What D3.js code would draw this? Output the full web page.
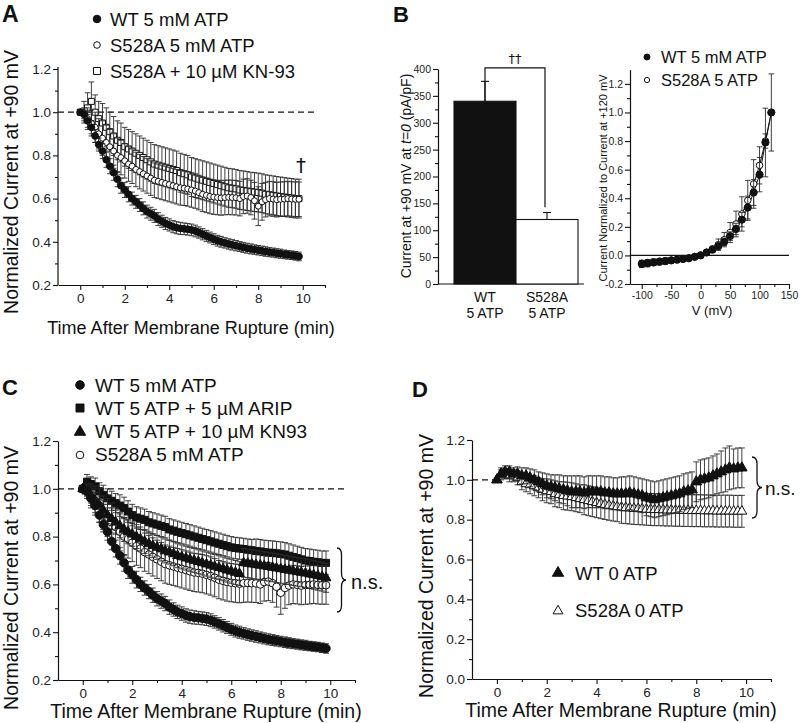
<!DOCTYPE html>
<html>
<head>
<meta charset="utf-8">
<script src="https://cdn.jsdelivr.net/npm/d3@7"></script>
<style>
body { margin: 0; background: #fff; }
svg { display: block; }
</style>
</head>
<body>
<svg id="fig" width="800" height="723"></svg>
<script>
// ---- data ----
var times = [0,0.17,0.33,0.5,0.67,0.83, 1,1.17,1.33,1.5,1.67,1.83, 2,2.17,2.33,2.5,2.67,2.83,
  3,3.17,3.33,3.5,3.67,3.83, 4,4.17,4.33,4.5,4.67,4.83, 5,5.17,5.33,5.5,5.67,5.83,
  6,6.17,6.33,6.5,6.67,6.83, 7,7.17,7.33,7.5,7.67,7.83, 8,8.17,8.33,8.5,8.67,8.83,
  9,9.17,9.33,9.5,9.67,9.83];

// WT 5 mM ATP (panels A and C)
var wt5 = [1.0,0.99,0.96,0.93,0.89,0.85, 0.82,0.78,0.75,0.72,0.69,0.66, 0.64,0.62,0.60,0.585,0.57,0.555,
  0.54,0.53,0.52,0.505,0.495,0.485, 0.478,0.47,0.465,0.462,0.46,0.458, 0.455,0.45,0.443,0.435,0.427,0.42,
  0.412,0.405,0.40,0.395,0.39,0.386, 0.382,0.378,0.374,0.37,0.367,0.364, 0.361,0.358,0.355,0.352,0.35,0.347,
  0.345,0.342,0.34,0.338,0.335,0.332];
var wt5Err = [0,0.02,0.03,0.03,0.03,0.03, 0.035,0.035,0.035,0.035,0.035,0.035, 0.035,0.035,0.03,0.03,0.03,0.03,
  0.03,0.03,0.03,0.03,0.028,0.028, 0.028,0.028,0.028,0.028,0.027,0.027, 0.027,0.027,0.026,0.026,0.026,0.025,
  0.025,0.025,0.025,0.024,0.024,0.024, 0.024,0.023,0.023,0.023,0.023,0.022, 0.022,0.022,0.022,0.021,0.021,0.021,
  0.021,0.02,0.02,0.02,0.02,0.02];

// S528A 5 mM ATP (panels A and C)
var s528a5 = [1.0,0.99,0.97,0.95,0.93,0.90, 0.88,0.86,0.84,0.82,0.80,0.79, 0.775,0.76,0.75,0.735,0.725,0.715,
  0.705,0.695,0.685,0.68,0.675,0.67, 0.665,0.66,0.655,0.65,0.648,0.645, 0.64,0.635,0.628,0.62,0.615,0.61,
  0.607,0.605,0.603,0.605,0.606,0.605, 0.604,0.60,0.61,0.612,0.605,0.59, 0.565,0.585,0.595,0.60,0.598,0.595,
  0.597,0.598,0.60,0.598,0.597,0.597];
var s528a5Err = [0,0.03,0.05,0.06,0.07,0.07, 0.08,0.08,0.08,0.08,0.08,0.08, 0.08,0.08,0.08,0.08,0.08,0.08,
  0.08,0.08,0.08,0.08,0.08,0.08, 0.08,0.08,0.08,0.08,0.08,0.08, 0.08,0.08,0.08,0.08,0.08,0.08,
  0.08,0.08,0.08,0.08,0.08,0.08, 0.08,0.08,0.08,0.08,0.08,0.085, 0.09,0.085,0.08,0.08,0.08,0.08,
  0.08,0.08,0.08,0.08,0.08,0.08];

// S528A + 10 uM KN-93 (panel A)
var s528aKn = [1.0,1.0,1.02,1.05,1.0,0.97, 0.95,0.93,0.91,0.89,0.87,0.86, 0.84,0.83,0.82,0.81,0.80,0.79,
  0.78,0.77,0.76,0.755,0.75,0.745, 0.74,0.735,0.73,0.72,0.715,0.71, 0.70,0.695,0.69,0.685,0.68,0.675,
  0.67,0.665,0.66,0.655,0.65,0.648, 0.645,0.64,0.638,0.635,0.632,0.63, 0.628,0.625,0.62,0.618,0.615,0.612,
  0.61,0.607,0.605,0.603,0.60,0.60];
var s528aKnErr = [0,0.05,0.07,0.09,0.08,0.08, 0.09,0.09,0.09,0.09,0.09,0.09, 0.09,0.09,0.09,0.09,0.09,0.09,
  0.09,0.09,0.09,0.09,0.09,0.09, 0.09,0.09,0.09,0.09,0.09,0.09, 0.09,0.09,0.09,0.09,0.09,0.09,
  0.09,0.09,0.09,0.09,0.09,0.09, 0.09,0.09,0.09,0.09,0.09,0.09, 0.09,0.09,0.09,0.09,0.09,0.09,
  0.09,0.09,0.09,0.09,0.09,0.09];

// WT 5 ATP + 5 uM ARIP (panel C)
var wtArip = [1.0,1.03,1.02,1.01,0.99,0.975, 0.96,0.95,0.94,0.93,0.92,0.905, 0.89,0.88,0.875,0.87,0.86,0.855,
  0.85,0.845,0.84,0.83,0.825,0.82, 0.815,0.81,0.805,0.80,0.795,0.79, 0.785,0.78,0.775,0.77,0.765,0.76,
  0.755,0.752,0.75,0.748,0.745,0.743, 0.74,0.738,0.735,0.733,0.732,0.73, 0.728,0.725,0.72,0.715,0.71,0.705,
  0.70,0.698,0.695,0.693,0.69,0.69];
var wtAripErr = [0,0.03,0.03,0.035,0.035,0.04, 0.04,0.04,0.04,0.045,0.045,0.045, 0.045,0.045,0.045,0.045,0.045,0.045,
  0.045,0.045,0.045,0.045,0.045,0.045, 0.045,0.045,0.045,0.045,0.045,0.045, 0.045,0.045,0.045,0.045,0.045,0.045,
  0.045,0.045,0.045,0.045,0.045,0.045, 0.05,0.05,0.05,0.05,0.05,0.05, 0.05,0.05,0.05,0.05,0.05,0.05,
  0.05,0.05,0.05,0.05,0.05,0.05];

// WT 5 ATP + 10 uM KN93 (panel C)
var wtKn = [1.0,0.99,0.97,0.95,0.93,0.91, 0.89,0.875,0.86,0.845,0.83,0.82, 0.81,0.80,0.79,0.78,0.77,0.762,
  0.755,0.748,0.74,0.735,0.728,0.72, 0.715,0.71,0.705,0.70,0.695,0.69, 0.685,0.68,0.675,0.67,0.665,0.66,
  0.655,0.65,0.645,0.69,0.688,0.685, 0.682,0.68,0.677,0.674,0.671,0.668, 0.665,0.662,0.659,0.656,0.653,0.65,
  0.647,0.643,0.64,0.636,0.632,0.627];
var wtKnErr = [0,0.02,0.03,0.035,0.04,0.04, 0.045,0.045,0.05,0.05,0.05,0.05, 0.05,0.05,0.05,0.05,0.05,0.05,
  0.05,0.05,0.05,0.05,0.05,0.05, 0.05,0.05,0.05,0.05,0.05,0.05, 0.05,0.05,0.05,0.05,0.05,0.05,
  0.05,0.05,0.05,0.06,0.06,0.06, 0.06,0.06,0.06,0.06,0.06,0.06, 0.06,0.06,0.06,0.06,0.06,0.06,
  0.06,0.06,0.06,0.06,0.06,0.06];

// WT 0 ATP and S528A 0 ATP (panel D)
var wt0 = [1.0,1.03,1.04,1.04,1.03,1.03, 1.02,1.02,1.01,1.0,0.99,0.98, 0.97,0.965,0.96,0.955,0.95,0.945,
  0.94,0.94,0.94,0.935,0.94,0.94, 0.94,0.94,0.935,0.935,0.93,0.93, 0.93,0.93,0.935,0.93,0.925,0.92,
  0.91,0.905,0.90,0.905,0.91,0.915, 0.92,0.925,0.93,0.94,0.945,0.95, 0.99,1.0,1.005,1.01,1.02,1.03,
  1.04,1.05,1.06,1.055,1.06,1.06];
var wt0Err = [0,0.03,0.03,0.03,0.03,0.035, 0.04,0.04,0.045,0.05,0.05,0.055, 0.06,0.06,0.065,0.07,0.07,0.075,
  0.08,0.08,0.08,0.08,0.08,0.08, 0.08,0.08,0.08,0.08,0.08,0.08, 0.085,0.085,0.085,0.085,0.085,0.085,
  0.09,0.09,0.09,0.09,0.09,0.09, 0.09,0.09,0.09,0.09,0.09,0.09, 0.1,0.1,0.1,0.1,0.1,0.1,
  0.105,0.11,0.11,0.1,0.1,0.1];
var s528a0 = [1.0,1.03,1.03,1.02,1.02,1.01, 0.99,0.98,0.975,0.97,0.96,0.95, 0.945,0.94,0.93,0.925,0.92,0.918,
  0.915,0.91,0.905,0.90,0.895,0.89, 0.885,0.88,0.876,0.872,0.868,0.865, 0.862,0.86,0.858,0.856,0.855,0.854,
  0.852,0.851,0.85,0.85,0.849,0.848, 0.848,0.847,0.847,0.846,0.846,0.845, 0.845,0.845,0.844,0.844,0.844,0.843,
  0.843,0.843,0.843,0.842,0.842,0.842];
var s528a0Err = [0,0.02,0.025,0.03,0.03,0.035, 0.04,0.04,0.045,0.05,0.05,0.055, 0.06,0.06,0.065,0.065,0.07,0.07,
  0.07,0.07,0.07,0.075,0.075,0.075, 0.075,0.075,0.075,0.075,0.075,0.075, 0.08,0.08,0.08,0.08,0.08,0.08,
  0.08,0.08,0.08,0.08,0.08,0.08, 0.08,0.08,0.08,0.08,0.08,0.08, 0.08,0.08,0.08,0.08,0.08,0.08,
  0.08,0.08,0.08,0.08,0.08,0.08];

// panel B, bars
var barGroups = ["WT", "S528A"];
var barLabels = [["WT", "5 ATP"], ["S528A", "5 ATP"]];
var barValues = [340, 120];
var barErrors = [37, 13];

// panel B, I-V relation
var volts = [-100,-90,-80,-70,-60,-50,-40,-30,-20,-10,0,10,20,30,40,50,60,70,80,90,100,110,120];
var ivWt = [-0.06,-0.055,-0.05,-0.045,-0.04,-0.035,-0.03,-0.025,-0.02,-0.01,0,0.02,0.04,0.065,0.095,0.135,0.185,0.25,0.335,0.44,0.565,0.79,1.0];
var ivWtErr = [0.025,0.025,0.02,0.02,0.02,0.015,0.015,0.01,0.01,0.01,0.005,0.01,0.015,0.02,0.025,0.03,0.04,0.05,0.08,0.09,0.12,0.24,0.27];
var ivS = [-0.055,-0.05,-0.045,-0.04,-0.037,-0.033,-0.028,-0.023,-0.018,-0.008,0.002,0.022,0.045,0.075,0.11,0.16,0.22,0.29,0.385,0.5,0.63,0.8,1.0];
var ivSErr = [0.02,0.02,0.02,0.015,0.015,0.015,0.01,0.01,0.01,0.01,0.005,0.01,0.02,0.04,0.05,0.07,0.09,0.12,0.14,0.17,0.13,0.05,0];

var timeMajor = [0, 2, 4, 6, 8, 10];
var timeMinor = [1, 3, 5, 7, 9, 11];

// ---- drawing ----
var FONT = '"Liberation Sans", Arial, Helvetica, sans-serif';
var svg = d3.select("#fig").attr("font-family", FONT);
var INK = "#111";

function fmt1(v) { return d3.format(".1f")(v).replace("\u2212", "-"); }

function styleAxis(g, fs) {
  g.attr("font-family", FONT).attr("font-size", fs);
  g.selectAll("path.domain").attr("stroke", INK).attr("stroke-width", 1.2);
  g.selectAll(".tick line").attr("stroke", INK).attr("stroke-width", 1.1);
  g.selectAll(".tick text").attr("fill", "#222");
}

function addAxes(p) {
  var y0 = p.y.range()[0], x0 = p.x.range()[0];
  var gx = svg.append("g").attr("transform", "translate(0," + y0 + ")")
    .call(d3.axisBottom(p.x).tickValues(p.xMaj).tickFormat(p.xFmt).tickSize(5).tickSizeOuter(0).tickPadding(3));
  styleAxis(gx, p.fs);
  var gxm = svg.append("g").attr("transform", "translate(0," + y0 + ")")
    .call(d3.axisBottom(p.x).tickValues(p.xMin).tickFormat("").tickSize(3));
  gxm.select(".domain").remove();
  styleAxis(gxm, p.fs);

  var gy = svg.append("g").attr("transform", "translate(" + x0 + ",0)")
    .call(d3.axisLeft(p.y).tickValues(p.yMaj).tickFormat(p.yFmt).tickSize(5).tickSizeOuter(0).tickPadding(2));
  styleAxis(gy, p.fs);
  if (p.yTop != null) {
    gy.select(".domain").attr("d", "M0," + y0 + "V" + p.yTop);
  }
  var gym = svg.append("g").attr("transform", "translate(" + x0 + ",0)")
    .call(d3.axisLeft(p.y).tickValues(p.yMin).tickFormat("").tickSize(3));
  gym.select(".domain").remove();
  styleAxis(gym, p.fs);
}

function text(x, y, s, fs, anchor, weight) {
  return svg.append("text").attr("x", x).attr("y", y).text(s)
    .attr("font-size", fs).attr("text-anchor", anchor || "start")
    .attr("font-weight", weight || "normal").attr("fill", INK);
}

function vtext(x, y, s, fs) {
  return svg.append("text").attr("transform", "translate(" + x + "," + y + ") rotate(-90)")
    .attr("text-anchor", "middle").attr("font-size", fs).attr("fill", INK).text(s);
}

function marker(g, cx, cy, kind, size) {
  if (kind === "dot" || kind === "ring") {
    g.append("circle").attr("cx", cx).attr("cy", cy).attr("r", size)
      .attr("fill", kind === "dot" ? INK : "#fff").attr("stroke", INK).attr("stroke-width", 1);
  } else {
    var type = (kind === "tri" || kind === "otri") ? d3.symbolTriangle : d3.symbolSquare;
    var filled = (kind === "tri" || kind === "sq");
    g.append("path").attr("transform", "translate(" + cx + "," + cy + ")")
      .attr("d", d3.symbol().type(type).size(size * size)())
      .attr("fill", filled ? INK : "#fff").attr("stroke", INK).attr("stroke-width", 1);
  }
}

function drawSeries(x, y, xs, vals, errs, kind, size, cap) {
  var g = svg.append("g");
  var eb = g.append("g").attr("stroke", "#2a2a2a").attr("stroke-width", 0.9);
  xs.forEach(function(t, i) {
    var e = errs[i];
    if (!e) return;
    var cx = x(t), yt = y(vals[i] + e), yb = y(vals[i] - e);
    eb.append("line").attr("x1", cx).attr("x2", cx).attr("y1", yt).attr("y2", yb);
    eb.append("line").attr("x1", cx - cap).attr("x2", cx + cap).attr("y1", yt).attr("y2", yt);
    eb.append("line").attr("x1", cx - cap).attr("x2", cx + cap).attr("y1", yb).attr("y2", yb);
  });
  xs.forEach(function(t, i) { marker(g, x(t), y(vals[i]), kind, size); });
  return g;
}

function dashed(x1, x2, yy) {
  svg.append("line").attr("x1", x1).attr("x2", x2).attr("y1", yy).attr("y2", yy)
    .attr("stroke", INK).attr("stroke-width", 1.2).attr("stroke-dasharray", "6,4");
}

function brace(x, y1, y2, w) {
  var ym = (y1 + y2) / 2, q = 7, xm = x + w / 2;
  var d = "M" + x + "," + y1 + "Q" + xm + "," + y1 + " " + xm + "," + (y1 + q) +
    "L" + xm + "," + (ym - q) + "Q" + xm + "," + ym + " " + (x + w) + "," + ym +
    "Q" + xm + "," + ym + " " + xm + "," + (ym + q) +
    "L" + xm + "," + (y2 - q) + "Q" + xm + "," + y2 + " " + x + "," + y2;
  svg.append("path").attr("d", d).attr("fill", "none").attr("stroke", INK).attr("stroke-width", 1.3);
}

// ---------- Panel A ----------
var xA = d3.scaleLinear().domain([-1, 11]).range([58, 325]);
var yA = d3.scaleLinear().domain([0.2, 1.2]).range([285, 69]);
addAxes({x: xA, y: yA, xMaj: timeMajor, xMin: timeMinor, xFmt: d3.format("d"),
  yMaj: [0.2, 0.4, 0.6, 0.8, 1.0, 1.2], yMin: [0.3, 0.5, 0.7, 0.9, 1.1], yFmt: fmt1, fs: "13.5px", yTop: 67});
dashed(xA(-1), 315, yA(1.0));
drawSeries(xA, yA, times, s528aKn, s528aKnErr, "osq", 6, 2.8);
drawSeries(xA, yA, times, s528a5, s528a5Err, "ring", 3, 2.8);
drawSeries(xA, yA, times, wt5, wt5Err, "dot", 3.4, 2.8);
text(301, 172, "\u2020", "20px", "middle").attr("font-family", "DejaVu Sans");
text(2, 22, "A", "23px", "start", "bold");
var legA = svg.append("g");
marker(legA, 97, 19, "dot", 3.8); text(110, 26, "WT 5 mM ATP", "18.5px");
marker(legA, 97, 45, "ring", 3.3); text(110, 52, "S528A 5 mM ATP", "18.5px");
marker(legA, 97, 71, "osq", 7); text(110, 78, "S528A + 10 \u00b5M KN-93", "18.5px");
vtext(18, 182, "Normalized Current at +90 mV", "19.5px");
text(191, 334, "Time After Membrane Rupture (min)", "18px", "middle");

// ---------- Panel B (bars) ----------
var xB = d3.scaleBand().domain(barGroups).range([454, 578]).padding(0);
var yB = d3.scaleLinear().domain([0, 400]).range([284, 69]);
var gBy = svg.append("g").attr("transform", "translate(438,0)")
  .call(d3.axisLeft(yB).tickValues(d3.range(0, 401, 50)).tickSize(5).tickSizeOuter(0).tickPadding(2));
styleAxis(gBy, "10.5px");
var gBym = svg.append("g").attr("transform", "translate(438,0)")
  .call(d3.axisLeft(yB).tickValues(d3.range(25, 400, 50)).tickFormat("").tickSize(3));
gBym.select(".domain").remove();
styleAxis(gBym, "10.5px");
svg.append("line").attr("x1", 438).attr("x2", 584).attr("y1", 284).attr("y2", 284)
  .attr("stroke", INK).attr("stroke-width", 1.2);
svg.append("g").selectAll("rect").data(barGroups).enter().append("rect")
  .attr("x", function(d) { return xB(d); })
  .attr("y", function(d, i) { return yB(barValues[i]); })
  .attr("width", xB.bandwidth())
  .attr("height", function(d, i) { return yB(0) - yB(barValues[i]); })
  .attr("fill", function(d, i) { return i === 0 ? INK : "#fff"; })
  .attr("stroke", INK).attr("stroke-width", 1.1);
barGroups.forEach(function(gname, i) {
  var cx = xB(gname) + xB.bandwidth() / 2, yt = yB(barValues[i] + barErrors[i]);
  svg.append("line").attr("x1", cx).attr("x2", cx).attr("y1", yB(barValues[i])).attr("y2", yt)
    .attr("stroke", INK).attr("stroke-width", 1.1);
  svg.append("line").attr("x1", cx - 4).attr("x2", cx + 4).attr("y1", yt).attr("y2", yt)
    .attr("stroke", INK).attr("stroke-width", 1.1);
  text(cx, 302, barLabels[i][0], "14px", "middle");
  text(cx, 318, barLabels[i][1], "14px", "middle");
});
var bx1 = xB("WT") + xB.bandwidth() / 2, bx2 = xB("S528A") + xB.bandwidth() / 2 - 2;
svg.append("path")
  .attr("d", "M" + bx1 + "," + yB(barValues[0]) + "V" + yB(402) + "H" + bx2 + "V" + yB(143))
  .attr("fill", "none").attr("stroke", INK).attr("stroke-width", 1.2);
text((bx1 + bx2) / 2, 63, "\u2020\u2020", "13px", "middle").attr("font-family", "DejaVu Sans");
var bLab = svg.append("text").attr("transform", "translate(411,176) rotate(-90)")
  .attr("text-anchor", "middle").attr("font-size", "14px").attr("fill", INK);
bLab.append("tspan").text("Current at +90 mV at ");
bLab.append("tspan").attr("font-style", "italic").text("t=0");
bLab.append("tspan").text(" (pA/pF)");
text(393, 22, "B", "22px", "start", "bold");

// ---------- Panel B (I-V) ----------
var xV = d3.scaleLinear().domain([-120, 150]).range([630, 789]);
var yV = d3.scaleLinear().domain([-0.2, 1.3]).range([284, 69.6]);
addAxes({x: xV, y: yV, xMaj: [-100, -50, 0, 50, 100, 150], xMin: [-75, -25, 25, 75, 125], xFmt: d3.format("d"),
  yMaj: [-0.2, 0, 0.2, 0.4, 0.6, 0.8, 1.0, 1.2], yMin: [-0.1, 0.1, 0.3, 0.5, 0.7, 0.9, 1.1], yFmt: fmt1, fs: "10.5px"});
svg.selectAll("text").filter(function() { return this.textContent.indexOf("\u2212") >= 0; })
  .text(function() { return this.textContent.replace("\u2212", "-"); });
svg.append("line").attr("x1", 630).attr("x2", 789).attr("y1", yV(0)).attr("y2", yV(0))
  .attr("stroke", INK).attr("stroke-width", 1.2);
var ivLine = d3.line().x(function(d) { return xV(d[0]); }).y(function(d) { return yV(d[1]); });
svg.append("path").attr("d", ivLine(volts.map(function(v, i) { return [v, ivS[i]]; })))
  .attr("fill", "none").attr("stroke", INK).attr("stroke-width", 1);
svg.append("path").attr("d", ivLine(volts.map(function(v, i) { return [v, ivWt[i]]; })))
  .attr("fill", "none").attr("stroke", INK).attr("stroke-width", 1);
drawSeries(xV, yV, volts, ivS, ivSErr, "ring", 3.3, 2.8);
drawSeries(xV, yV, volts, ivWt, ivWtErr, "dot", 3.6, 2.8);
var legV = svg.append("g");
marker(legV, 647, 57, "dot", 3); text(661, 63, "WT 5 mM ATP", "16.5px");
marker(legV, 647, 80, "ring", 2.6); text(661, 86, "S528A 5 ATP", "16.5px");
vtext(607, 178, "Current Normalized to Current at +120 mV", "11px");
text(712, 315, "V (mV)", "13px", "middle");

// ---------- Panel C ----------
var xC = d3.scaleLinear().domain([-1, 11]).range([58, 355]);
var yC = d3.scaleLinear().domain([0.2, 1.2]).range([680, 441]);
addAxes({x: xC, y: yC, xMaj: timeMajor, xMin: timeMinor, xFmt: d3.format("d"),
  yMaj: [0.2, 0.4, 0.6, 0.8, 1.0, 1.2], yMin: [0.3, 0.5, 0.7, 0.9, 1.1], yFmt: fmt1, fs: "13.5px"});
dashed(xC(-1), 348, yC(1.0));
drawSeries(xC, yC, times, wtArip, wtAripErr, "sq", 7, 3);
drawSeries(xC, yC, times, s528a5, s528a5Err, "ring", 3.8, 3);
drawSeries(xC, yC, times, wtKn, wtKnErr, "tri", 6.5, 3);
drawSeries(xC, yC, times, wt5, wt5Err, "dot", 4.2, 3);
brace(337, 548, 612, 9);
text(351, 589, "n.s.", "20px");
text(2, 395, "C", "22px", "start", "bold");
var legC = svg.append("g");
marker(legC, 80, 385, "dot", 4.3); text(95, 392, "WT 5 mM ATP", "19px");
marker(legC, 80, 408, "sq", 8); text(95, 415, "WT 5 ATP + 5 \u00b5M ARIP", "19px");
marker(legC, 80, 432, "tri", 7.5); text(95, 438, "WT 5 ATP + 10 \u00b5M KN93", "19px");
marker(legC, 80, 455, "ring", 3.8); text(95, 461, "S528A 5 mM ATP", "19px");
vtext(18, 578, "Normalized Current at +90 mV", "19.5px");
text(206, 718, "Time After Membrane Rupture (min)", "19.5px", "middle");

// ---------- Panel D ----------
var xD = d3.scaleLinear().domain([-1, 11]).range([472, 771]);
var yD = d3.scaleLinear().domain([0, 1.2]).range([679, 440]);
addAxes({x: xD, y: yD, xMaj: timeMajor, xMin: timeMinor, xFmt: d3.format("d"),
  yMaj: [0, 0.2, 0.4, 0.6, 0.8, 1.0, 1.2], yMin: [0.1, 0.3, 0.5, 0.7, 0.9, 1.1], yFmt: fmt1, fs: "13.5px"});
dashed(xD(-1), xD(0), yD(1.0));
drawSeries(xD, yD, times, s528a0, s528a0Err, "otri", 6.5, 3);
drawSeries(xD, yD, times, wt0, wt0Err, "tri", 7, 3);
brace(752, 457, 518, 10);
text(765, 495, "n.s.", "19px");
text(412, 397, "D", "22px", "start", "bold");
var legD = svg.append("g");
marker(legD, 558, 573, "tri", 7.5); text(575, 580, "WT 0 ATP", "18.5px");
marker(legD, 558, 611, "otri", 6.5); text(575, 617, "S528A 0 ATP", "18.5px");
vtext(433, 566, "Normalized Current at +90 mV", "19.5px");
text(621, 717, "Time After Membrane Rupture (min)", "19.5px", "middle");
</script>
</body>
</html>
